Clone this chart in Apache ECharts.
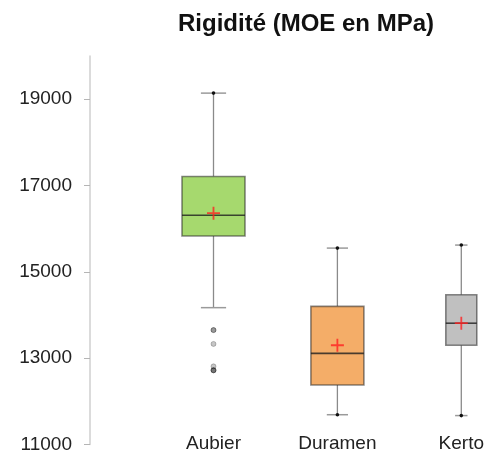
<!DOCTYPE html>
<html>
<head>
<meta charset="utf-8">
<script src="https://cdn.jsdelivr.net/npm/echarts@6/dist/echarts.min.js"></script>
<style>
  html, body { margin: 0; padding: 0; background: #fff; }
  #chart { width: 487px; height: 454px; }
</style>
</head>
<body>
<div id="chart"></div>
<script>
// ---- data ----
const categories = ['Aubier', 'Duramen', 'Kerto'];
const whiskerMin = [14170, 11690, 11670];
const q1         = [15830, 12380, 13300];
const median     = [16310, 13110, 13810];
const q3         = [17210, 14200, 14470];
const whiskerMax = [19140, 15550, 15620];
const means      = [16360, 13300, 13810];
// whether the whisker end is itself a plotted observation (dot at the cap)
const maxIsPoint = [true, true, true];
const minIsPoint = [false, true, true];
// outliers (category index, value); repeated values overlap and look darker
const outlierCat   = [0, 0, 0, 0, 0, 0, 0];
const outlierValue = [13650, 13650, 13330, 12810, 12720, 12720, 12720];
const yTicks = [11000, 13000, 15000, 17000, 19000];

// ---- styles ----
const BOX_WIDTH_PX = [63, 53, 31];
const FILLS = ['#a6d96e', '#f4ad68', '#c0c0c0'];
const FONT = "'Liberation Sans', Arial, sans-serif";

const boxData = categories.map((c, i) => [i, whiskerMin[i], q1[i], median[i], q3[i], whiskerMax[i]]);
const meanData = categories.map((c, i) => [i, means[i]]);
const outlierData = outlierValue.map((v, k) => [outlierCat[k], v]);

const chart = echarts.init(document.getElementById('chart'), null, { renderer: 'canvas' });

chart.setOption({
  animation: false,
  backgroundColor: '#ffffff',
  title: {
    text: 'Rigidité (MOE en MPa)',
    left: 301,
    textAlign: 'center',
    top: 7,
    textStyle: { fontFamily: FONT, fontSize: 24, fontWeight: 'bold', color: '#111' }
  },
  grid: { left: 213.5, right: 24.5, top: 56, bottom: 7, containLabel: false },
  xAxis: {
    type: 'category',
    data: categories,
    boundaryGap: false,
    axisLine: { show: false },
    axisTick: { show: false },
    splitLine: { show: false },
    axisLabel: { fontFamily: FONT, fontSize: 19, color: '#222', margin: -10 }
  },
  yAxis: {
    type: 'value',
    min: 11000,
    max: 20000,
    interval: 2000,
    offset: 123.5,
    splitLine: { show: false },
    axisLine: { show: true, lineStyle: { color: '#cfcfcf', width: 1.5 } },
    axisTick: { show: true, length: 6, customValues: yTicks, lineStyle: { color: '#b5b5b5', width: 1 } },
    axisLabel: {
      fontFamily: FONT, fontSize: 19, color: '#222', margin: 18, customValues: yTicks,
      formatter: function (v) { return String(v); }
    }
  },
  series: [
    {
      type: 'custom',
      clip: false,
      encode: { x: 0, y: [1, 2, 3, 4, 5] },
      data: boxData,
      renderItem: function (params, api) {
        const idx = api.value(0);
        const w = BOX_WIDTH_PX[idx];
        const cw = w * 0.4;
        const pMin = api.coord([idx, api.value(1)]);
        const pQ1 = api.coord([idx, api.value(2)]);
        const pMed = api.coord([idx, api.value(3)]);
        const pQ3 = api.coord([idx, api.value(4)]);
        const pMax = api.coord([idx, api.value(5)]);
        const x = pMed[0];
        const whisk = { stroke: '#8a8a8a', lineWidth: 1.3 };
        const cap = { stroke: '#9a9a9a', lineWidth: 1.5 };
        const children = [
          { type: 'line', shape: { x1: x, y1: pQ3[1], x2: x, y2: pMax[1] }, style: whisk },
          { type: 'line', shape: { x1: x, y1: pQ1[1], x2: x, y2: pMin[1] }, style: whisk },
          { type: 'line', shape: { x1: x - cw / 2, y1: pMax[1], x2: x + cw / 2, y2: pMax[1] }, style: cap },
          { type: 'line', shape: { x1: x - cw / 2, y1: pMin[1], x2: x + cw / 2, y2: pMin[1] }, style: cap }
        ];
        if (maxIsPoint[idx]) children.push({ type: 'circle', shape: { cx: x, cy: pMax[1], r: 1.8 }, style: { fill: '#111' } });
        if (minIsPoint[idx]) children.push({ type: 'circle', shape: { cx: x, cy: pMin[1], r: 1.8 }, style: { fill: '#111' } });
        children.push(
          {
            type: 'rect',
            shape: { x: x - w / 2, y: pQ3[1], width: w, height: pQ1[1] - pQ3[1] },
            style: { fill: FILLS[idx], stroke: 'rgba(40,40,40,0.55)', lineWidth: 1.6 }
          },
          { type: 'line', shape: { x1: x - w / 2, y1: pMed[1], x2: x + w / 2, y2: pMed[1] },
            style: { stroke: 'rgba(30,30,30,0.8)', lineWidth: 1.6 } }
        );
        return { type: 'group', children: children };
      },
      z: 2
    },
    {
      type: 'scatter',
      clip: false,
      data: outlierData,
      symbol: 'circle',
      symbolSize: 5,
      itemStyle: { color: 'rgba(0,0,0,0.28)', borderColor: 'rgba(0,0,0,0.35)', borderWidth: 0.8 },
      z: 3
    },
    {
      type: 'scatter',
      clip: false,
      data: meanData,
      symbol: 'path://M4.3,0h1.4v4.3h4.3v1.4h-4.3v4.3h-1.4v-4.3h-4.3v-1.4h4.3z',
      symbolSize: 13,
      itemStyle: { color: '#ff2020' },
      z: 4
    }
  ]
});
</script>
</body>
</html>
